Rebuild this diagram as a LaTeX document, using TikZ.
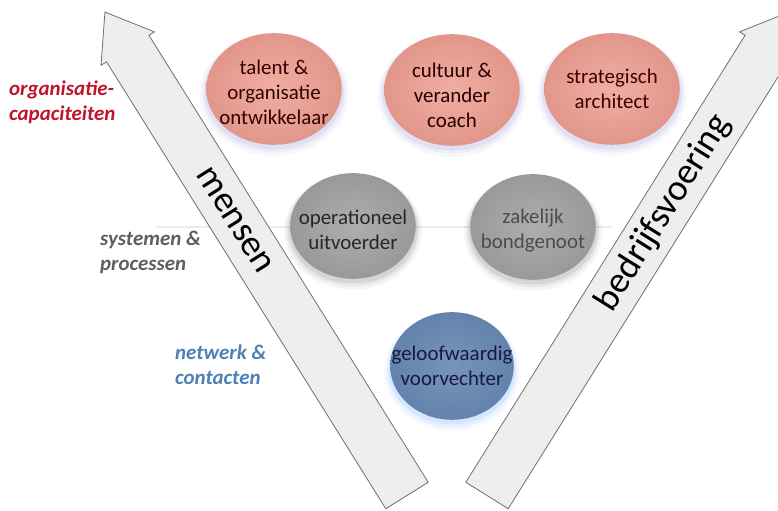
\documentclass[tikz,border=0pt]{standalone}
\usepackage{fontspec}
\setmainfont{Carlito}
\usetikzlibrary{shapes.geometric, shadows}

\definecolor{rozein}{HTML}{F0AEA3}
\definecolor{rozeuit}{HTML}{E2968A}
\definecolor{grijsin}{HTML}{AEAEAE}
\definecolor{grijsuit}{HTML}{999999}
\definecolor{blauwin}{HTML}{7894BA}
\definecolor{blauwuit}{HTML}{6383AC}
\definecolor{pijlrand}{HTML}{6E6E6E}
\definecolor{pijlvul}{HTML}{EEEEEE}
\definecolor{rood}{HTML}{C0142D}
\definecolor{grijs}{HTML}{5E5E5E}
\definecolor{blauw}{HTML}{4F7FB6}

\begin{document}
\begin{tikzpicture}[
    x=1bp,
    y=1bp,
    halo/.style={
      general shadow={fill=#1, fill opacity=.04, shadow scale=1.10, shadow yshift=-5},
      general shadow={fill=#1, fill opacity=.06, shadow scale=1.06, shadow yshift=-4},
      general shadow={fill=#1, fill opacity=.08, shadow scale=1.03, shadow yshift=-3}
    },
    rol/.style={ellipse, inner sep=0, outer sep=0},
    roze/.style={rol, minimum width=136, minimum height=112,
      inner color=rozein, outer color=rozeuit, halo=blue!50!gray},
    grijsrol/.style={rol, minimum width=126, minimum height=106,
      inner color=grijsin, outer color=grijsuit, halo=black},
    blauwrol/.style={rol, minimum width=124, minimum height=108,
      inner color=blauwin, outer color=blauwuit, halo=blue!60!cyan},
    roltekst/.style={align=center, inner sep=0, font=\fontsize{21}{25}\selectfont},
    pijl/.style={draw=pijlrand, fill=pijlvul, line width=.8, line join=miter},
    pijltekst/.style={inner sep=0, font=\fontsize{37}{44}\selectfont},
    niveau/.style={anchor=west, align=left, inner sep=0,
      font=\fontsize{21}{25}\selectfont\bfseries\itshape}]
   \useasboundingbox (0,0) rectangle (778,511);

   \draw[gray!15, line width=1.2] (157,284) -- (612,284);

   \foreach \bx/\hoek in {407/122, 487/58}
     \draw[pijl, shift={(\bx,15.5)}, rotate=\hoek]
       (0,-25) -- (527,-25) -- (527,-31.5) -- (570,0) -- (527,31.5) -- (527,25) -- (0,25) -- cycle;

   \path
     node(mensen) at (234.5,291) [pijltekst, rotate=-58] {mensen}
     node(bedrijf) at (663.5,298) [pijltekst, rotate=58] {bedrijfsvoering};

   \path
     node(cap1) at (274,422) [roze,
       label={[roltekst, text=black!55!red!45!black, yshift=-3]center:talent \&\\organisatie\\ontwikkelaar}] {}
     node(cap2) at (452,421) [roze,
       label={[roltekst, text=black!85!red, yshift=-5]center:cultuur \&\\verander\\coach}] {}
     node(cap3) at (612,422) [roze,
       label={[roltekst, text=black!50!red!50!black]center:strategisch\\architect}] {}
     node(sys1) at (353,285) [grijsrol,
       label={[roltekst, text=black!85, yshift=-4]center:operationeel\\uitvoerder}] {}
     node(sys2) at (533,284) [grijsrol,
       label={[roltekst, text=black!70, yshift=-4]center:zakelijk\\bondgenoot}] {}
     node(net1) at (452,145) [blauwrol,
       label={[roltekst, text=blue!15!black!90]center:geloofwaardig\\voorvechter}] {};

   \path
     node(lcap) at (9,408.5) [niveau, text=rood] {organisatie-\\capaciteiten}
     node(lsys) at (100,258.5) [niveau, text=grijs] {systemen \&\\processen}
     node(lnet) at (175,146) [niveau, text=blauw] {netwerk \&\\contacten};
\end{tikzpicture}
\end{document}
